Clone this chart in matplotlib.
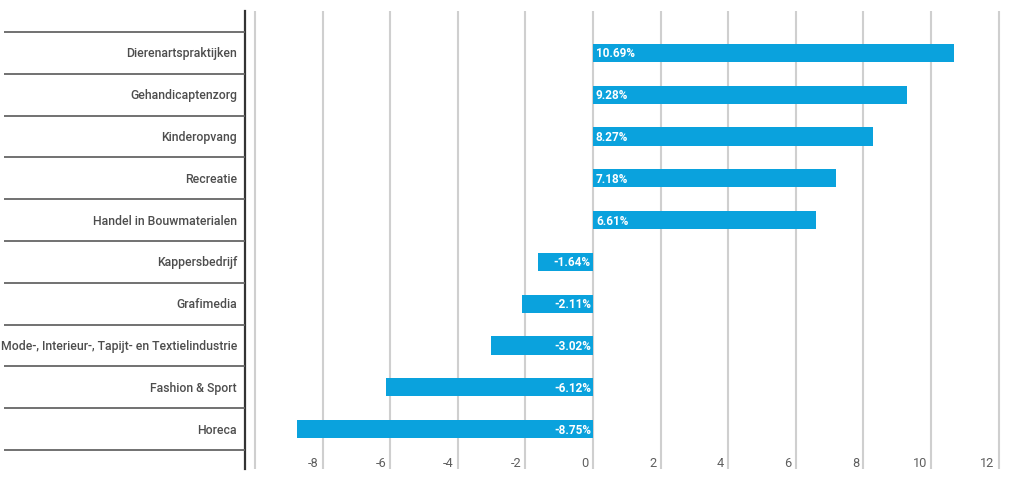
import matplotlib
matplotlib.use("Agg")
import matplotlib.pyplot as plt
from matplotlib.transforms import offset_copy

categories = ['Dierenartspraktijken', 'Gehandicaptenzorg', 'Kinderopvang', 'Recreatie',
              'Handel in Bouwmaterialen', 'Kappersbedrijf', 'Grafimedia',
              'Mode-, Interieur-, Tapijt- en Textielindustrie', 'Fashion & Sport', 'Horeca']
values = [10.69, 9.28, 8.27, 7.18, 6.61, -1.64, -2.11, -3.02, -6.12, -8.75]
ticks = [-8, -6, -4, -2, 0, 2, 4, 6, 8, 10, 12]
gridpos = [-10] + ticks

plt.rcParams['font.family'] = ['Roboto', 'DejaVu Sans']

W, H = 1024, 489
fig = plt.figure(figsize=(W / 100, H / 100), dpi=100)

# pixel layout
top, bottom = 12, 470
ax = fig.add_axes([245 / W, 1 - bottom / H, (1008 - 245) / W, (bottom - top) / H])
lab = fig.add_axes([4 / W, 1 - bottom / H, (245 - 4) / W, (bottom - top) / H])

ppu = 33.8  # pixels per unit
x0 = 593
ax.set_xlim((245 - x0) / ppu, (1008 - x0) / ppu)
row = 41.8
ylo = -0.5 - (33 - top) / row
yhi = 9.5 + (bottom - 451) / row
ax.set_ylim(yhi, ylo)
lab.set_ylim(yhi, ylo)
lab.set_xlim(0, 1)

color = '#0aa2dd'
ys = list(range(len(categories)))
for g in gridpos:
    ax.axvline(g, color='#cfcfcf', lw=1.5, zorder=0)
ax.barh(ys, values, height=0.44, color=color, zorder=2)

for y, v in zip(ys, values):
    if v >= 0:
        t = offset_copy(ax.transData, fig=fig, x=3, y=0, units='dots')
        ax.text(0, y, f'{v:.2f}%', transform=t, ha='left', va='center',
                color='white', fontsize=8.5, fontweight='bold', zorder=3)
    else:
        t = offset_copy(ax.transData, fig=fig, x=-2, y=0, units='dots')
        ax.text(0, y, f'{v:.2f}%', transform=t, ha='right', va='center',
                color='white', fontsize=8.5, fontweight='bold', zorder=3)

# x tick labels drawn inside the plot area, right-aligned to gridlines
ty = 9.5 + (464 - 451) / row
for tk in ticks:
    t = offset_copy(ax.transData, fig=fig, x=-4, y=0, units='dots')
    ax.text(tk, ty, str(tk), transform=t, ha='right', va='center',
            color='#5f5f5f', fontsize=9.2)

ax.set_xticks([])
ax.set_yticks([])
for s in ['top', 'right', 'bottom']:
    ax.spines[s].set_visible(False)
ax.spines['left'].set_color('#333333')
ax.spines['left'].set_linewidth(1.6)

# left category column
for sep in [i - 0.5 for i in range(len(categories) + 1)]:
    lab.axhline(sep, color='#666666', lw=1.3)
for y, c in zip(ys, categories):
    lab.text((237 - 4) / (245 - 4), y, c, ha='right', va='center',
             color='#4d4d4d', fontsize=8.8, fontweight='medium')
lab.axis('off')

fig.savefig('out.png', dpi=100)
